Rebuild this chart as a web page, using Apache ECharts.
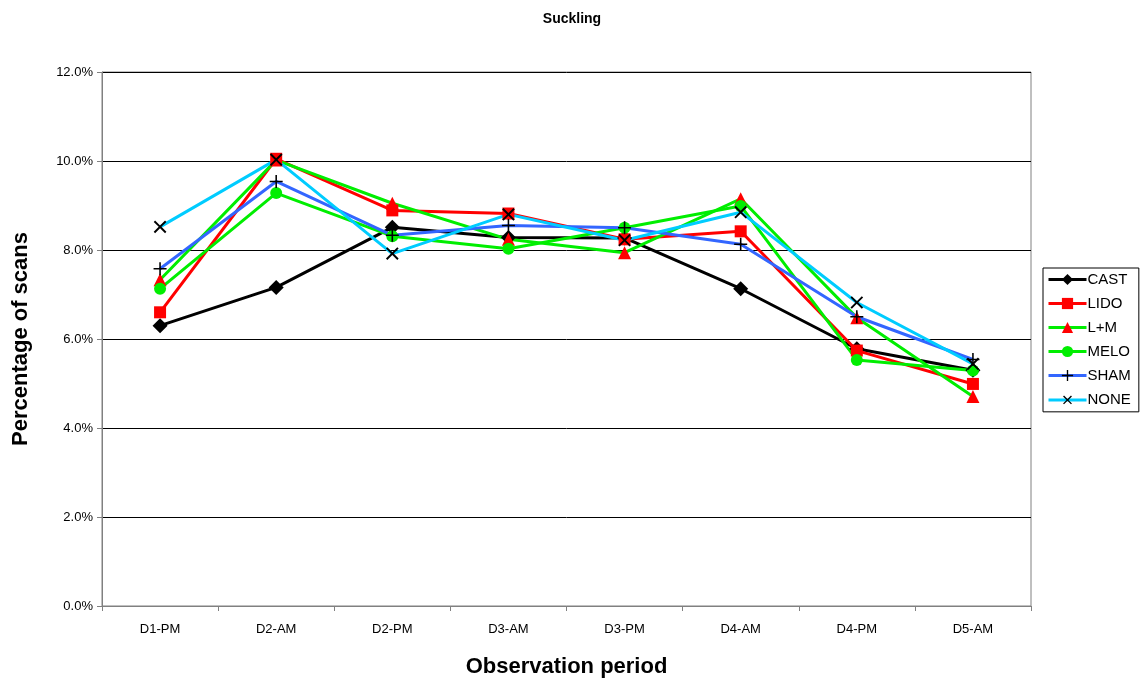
<!DOCTYPE html>
<html><head><meta charset="utf-8">
<script src="https://cdn.jsdelivr.net/npm/echarts@6/dist/echarts.min.js"></script>
<style>html,body{margin:0;padding:0;background:#fff}#c{width:1147px;height:683px}</style>
</head><body><div id="c"></div>
<script>
const categories = ['D1-PM','D2-AM','D2-PM','D3-AM','D3-PM','D4-AM','D4-PM','D5-AM'];
const CAST = [6.30, 7.16, 8.51, 8.28, 8.27, 7.13, 5.78, 5.30];
const LIDO = [6.60, 10.05, 8.89, 8.82, 8.24, 8.42, 5.74, 4.99];
const LM   = [7.33, 10.02, 9.05, 8.24, 7.94, 9.15, 6.48, 4.71];
const MELO = [7.13, 9.28, 8.31, 8.03, 8.50, 8.99, 5.53, 5.29];
const SHAM = [7.58, 9.54, 8.33, 8.55, 8.50, 8.13, 6.50, 5.54];
const NONE = [8.52, 10.03, 7.92, 8.80, 8.22, 8.85, 6.82, 5.44];
const yTicks = [0, 2, 4, 6, 8, 10, 12];

const plus = 'path://M4.4,0 L5.6,0 L5.6,4.4 L10,4.4 L10,5.6 L5.6,5.6 L5.6,10 L4.4,10 L4.4,5.6 L0,5.6 L0,4.4 L4.4,4.4 Z';
function s(name, data, lineColor, markColor, symbol, size, rot) {
  return {
    name, type: 'line', data, symbol, symbolSize: size, symbolRotate: rot || 0,
    lineStyle: { color: lineColor, width: 3 },
    itemStyle: { color: markColor },
    emphasis: { disabled: true }, animation: false, z: 2
  };
}
const chart = echarts.init(document.getElementById('c'));
chart.setOption({
  animation: false,
  title: { text: 'Suckling', left: 567, top: 7, textAlign: 'center',
    textStyle: { fontFamily: 'Liberation Sans, Arial', fontSize: 14, fontWeight: 'bold', color: '#000' } },
  grid: { left: 102, right: 116, top: 72, bottom: 75, show: true, borderColor: '#808080', borderWidth: 1 },
  legend: {
    orient: 'vertical', left: 1043, top: 268,
    borderColor: '#000', borderWidth: 1, padding: [4, 8, 4, 4],
    itemWidth: 38, itemHeight: 14, itemGap: 9,
    lineStyle: { width: 3 },
    textStyle: { fontFamily: 'Liberation Sans, Arial', fontSize: 15, color: '#000', padding: [0,0,0,-4] },
    data: ['CAST','LIDO','L+M','MELO','SHAM','NONE']
  },
  xAxis: {
    type: 'category', data: categories, boundaryGap: true,
    name: 'Observation period', nameLocation: 'middle', nameGap: 50,
    nameTextStyle: { fontFamily: 'Liberation Sans, Arial', fontSize: 22, fontWeight: 'bold', color: '#000' },
    axisLine: { lineStyle: { color: '#808080', width: 1 } },
    axisTick: { show: true, length: 5, lineStyle: { color: '#808080' } },
    axisLabel: { fontFamily: 'Liberation Sans, Arial', fontSize: 13, color: '#000', margin: 17 },
    splitLine: { show: false }
  },
  yAxis: {
    type: 'value', min: 0, max: 12, interval: 2,
    name: 'Percentage of scans', nameLocation: 'middle', nameGap: 70,
    nameTextStyle: { fontFamily: 'Liberation Sans, Arial', fontSize: 22, fontWeight: 'bold', color: '#000' },
    axisLine: { show: true, lineStyle: { color: '#808080', width: 1 } },
    axisTick: { show: true, length: 5, lineStyle: { color: '#808080' } },
    axisLabel: { fontFamily: 'Liberation Sans, Arial', fontSize: 13, color: '#000', margin: 9,
      formatter: v => yTicks.includes(v) ? v.toFixed(1) + '%' : '' },
    splitLine: { lineStyle: { color: '#000', width: 1 } }
  },
  series: [
    s('CAST', CAST, '#000000', '#000000', 'diamond', 15),
    s('LIDO', LIDO, '#ff0000', '#ff0000', 'rect', 12),
    s('L+M', LM, '#00ee00', '#ff0000', 'triangle', 13),
    s('MELO', MELO, '#00ee00', '#00ee00', 'circle', 12),
    s('SHAM', SHAM, '#3366ff', '#000000', plus, 13),
    s('NONE', NONE, '#00ccff', '#000000', plus, 16, 45)
  ]
});
</script></body></html>
